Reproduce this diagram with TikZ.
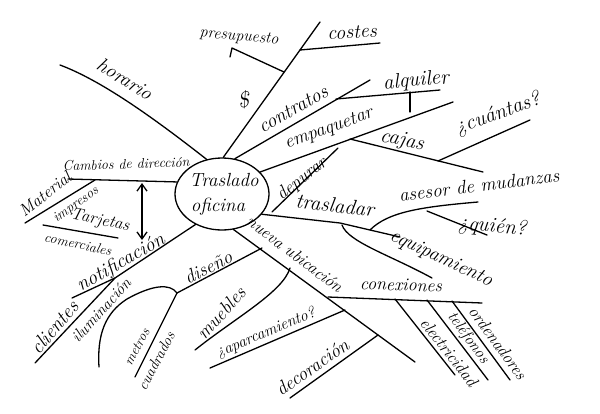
\documentclass[tikz,border=0pt]{standalone}
\usetikzlibrary{shapes.geometric,arrows.meta}
\newcommand{\fs}[1]{\fontsize{#1}{#1}\selectfont\itshape}
\begin{document}
\begin{tikzpicture}[x=1pt,y=-1pt,
  br/.style={line width=1.3pt,line cap=round,line join=round},
  lbl/.style={inner sep=0pt,anchor=center}]
\useasboundingbox[fill=white] (0,0) rectangle (600,413);

% centre
\node[draw,br,ellipse,minimum width=94pt,minimum height=72pt,inner sep=0pt] (c) at (222,194) {};
\node[lbl,font=\fs{19}] (t1) at (224,180) {Traslado};
\node[lbl,font=\fs{19}] (t2) at (218,207) {oficina};

% horario
\coordinate (hor) at (60,65);
\draw[br] (c.114) .. controls (150,115) and (100,80) .. (hor);
\node[lbl,font=\fs{20},rotate=-32] (lhor) at (125,79) {horario};

% presupuesto / costes
\coordinate (dtop) at (320,22);
\coordinate (p0) at (284,72);
\coordinate (p1) at (232,48);
\coordinate (p2) at (230,57);
\coordinate (c0) at (300,50);
\coordinate (c1) at (380,43);
\draw[br] (c.88) -- (dtop);
\draw[br] (p0) -- (p1) -- (p2);
\draw[br] (c0) -- (c1);
\node[lbl,font=\fs{16},rotate=-5] (lpre) at (239,37) {presupuesto};
\node[lbl,font=\fs{20},rotate=3] (lcos) at (352,32) {costes};
\node[lbl,font=\fs{22},rotate=10] (ldol) at (243,100) {\$};

% contratos / alquiler
\coordinate (ct) at (370,80);
\coordinate (a0) at (336,99);
\coordinate (a1) at (440,90);
\coordinate (at0) at (410,92);
\coordinate (at1) at (410,112);
\draw[br] (c.70) -- (ct);
\draw[br] (a0) -- (a1);
\draw[br] (at0) -- (at1);
\node[lbl,font=\fs{20},rotate=30] (lcon) at (293,109) {contratos};
\node[lbl,font=\fs{21},rotate=5] (lalq) at (416,81) {alquiler};

% empaquetar / cajas / cuantas
\coordinate (em) at (453,102);
\coordinate (cj0) at (350,139);
\coordinate (cj1) at (483,172);
\coordinate (cu0) at (438,161);
\coordinate (cu1) at (530,120);
\draw[br] (c.30) -- (em);
\draw[br] (cj0) -- (cj1);
\draw[br] (cu0) -- (cu1);
\node[lbl,font=\fs{19},rotate=20] (lemp) at (329,129) {empaquetar};
\node[lbl,font=\fs{21},rotate=-12] (lcaj) at (402,141) {cajas};
\node[lbl,font=\fs{21},rotate=20] (lcua) at (498,114) {¿cuántas?};

% depurar
\coordinate (dp0) at (272,212);
\coordinate (dp1) at (338,148);
\draw[br] (dp0) -- (dp1);
\node[lbl,font=\fs{18},rotate=38] (ldep) at (302,179) {depurar};

% trasladar
\coordinate (tr1) at (340,223);
\coordinate (tr2) at (400,237);
\coordinate (as0) at (370,230);
\coordinate (as1) at (478,202);
\coordinate (qu0) at (427,211);
\coordinate (qu1) at (487,235);
\coordinate (eq0) at (342,225);
\coordinate (eq1) at (432,278);
\draw[br] (c.333) -- (tr1) -- (tr2);
\draw[br] (as0) .. controls (388,212) and (420,207) .. (as1);
\draw[br] (qu0) -- (qu1);
\draw[br] (eq0) .. controls (348,242) and (390,255) .. (eq1);
\node[lbl,font=\fs{21},rotate=-7] (ltra) at (335,205) {trasladar};
\node[lbl,font=\fs{19},rotate=7] (lase) at (479,185) {asesor de mudanzas};
\node[lbl,font=\fs{21},rotate=-5] (lqui) at (492,227) {¿quién?};
\node[lbl,font=\fs{20},rotate=-25] (lequ) at (441,259) {equipamiento};

% nueva ubicacion
\coordinate (nu) at (415,362);
\coordinate (cx0) at (328,297);
\coordinate (cx1) at (482,303);
\coordinate (e0) at (395,299);
\coordinate (e1) at (455,375);
\coordinate (te0) at (427,300);
\coordinate (te1) at (488,380);
\coordinate (or0) at (452,301);
\coordinate (or1) at (510,380);
\draw[br] (c.-72) -- (nu);
\draw[br] (cx0) -- (cx1);
\draw[br] (e0) -- (e1);
\draw[br] (te0) -- (te1);
\draw[br] (or0) -- (or1);
\node[lbl,font=\fs{17},rotate=-37] (lnue) at (295,254) {nueva ubicación};
\node[lbl,font=\fs{18},rotate=-2] (lcox) at (401,285) {conexiones};
\node[lbl,font=\fs{17},rotate=-52] (lele) at (449,352) {electricidad};
\node[lbl,font=\fs{16},rotate=-54] (ltel) at (468,338) {teléfonos};
\node[lbl,font=\fs{17},rotate=-54] (lord) at (498,343) {ordenadores};

% muebles / aparcamiento / decoracion
\coordinate (mu0) at (290,268);
\coordinate (mu1) at (195,350);
\coordinate (ap0) at (345,310);
\coordinate (ap1) at (210,368);
\coordinate (de0) at (378,335);
\coordinate (de1) at (290,398);
\draw[br] (mu0) .. controls (283,292) and (235,318) .. (mu1);
\draw[br] (ap0) -- (ap1);
\draw[br] (de0) -- (de1);
\node[lbl,font=\fs{19},rotate=48] (lmue) at (221,313) {muebles};
\node[lbl,font=\fs{16},rotate=23] (lapa) at (266,333) {¿aparcamiento?};
\node[lbl,font=\fs{19},rotate=35] (ldec) at (312,367) {decoración};

% diseno / iluminacion / metros
\coordinate (di0) at (262,248);
\coordinate (di1) at (177,293);
\coordinate (me1) at (135,377);
\draw[br] (di0) -- (di1);
\draw[br] (di1) .. controls (170,283) and (152,285) .. (127,299) .. controls (105,313) and (97,335) .. (99,367);
\draw[br] (di1) -- (me1);
\node[lbl,font=\fs{19},rotate=27] (ldis) at (208,267) {diseño};
\node[lbl,font=\fs{16},rotate=48] (lilu) at (101,310) {iluminación};
\node[lbl,font=\fs{14},rotate=62] (lmet) at (137,347) {metros};
\node[lbl,font=\fs{15},rotate=62] (lcua2) at (156,361) {cuadrados};

% notificacion / clientes
\coordinate (nb) at (115,278);
\coordinate (no) at (35,363);
\coordinate (cl1) at (72,298);
\draw[br] (c.229) -- (nb) -- (no);
\draw[br] (nb) -- (cl1);
\node[lbl,font=\fs{20},rotate=30] (lnot) at (121,263) {notificación};
\node[lbl,font=\fs{20},rotate=50] (lcli) at (54,327) {clientes};

% cambios de direccion
\coordinate (cb) at (68,179);
\coordinate (ar0) at (142,183);
\coordinate (ar1) at (142,240);
\coordinate (ma0) at (95,180);
\coordinate (ma1) at (25,223);
\coordinate (tj0) at (43,225);
\coordinate (tj1) at (118,238);
\draw[br] (c.165) -- (cb);
\draw[br,{Straight Barb[length=7pt,width=10pt]}-{Straight Barb[length=7pt,width=10pt]}] (ar0) -- (ar1);
\draw[br] (ma0) -- (ma1);
\draw[br] (tj0) -- (tj1);
\node[lbl,font=\fs{14},rotate=2] (lcam) at (126,164) {Cambios de dirección};
\node[lbl,font=\fs{17},rotate=38] (lmat) at (45,194) {Material};
\node[lbl,font=\fs{14},rotate=35] (limp) at (76,205) {impresos};
\node[lbl,font=\fs{17},rotate=-12] (ltar) at (100,221) {Tarjetas};
\node[lbl,font=\fs{14},rotate=-12] (lcom) at (78,244) {comerciales};
\end{tikzpicture}
\end{document}
